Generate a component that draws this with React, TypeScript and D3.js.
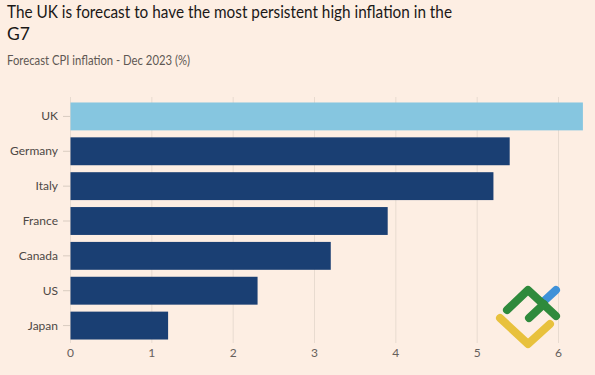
import React from "react";
import * as d3 from "d3";

const countries = ["UK", "Germany", "Italy", "France", "Canada", "US", "Japan"];
const values = [6.3, 5.4, 5.2, 3.9, 3.2, 2.3, 1.2];
const highlight = ["UK"];
const xTicks = [0, 1, 2, 3, 4, 5, 6];
const titleLines = ["The UK is forecast to have the most persistent high inflation in the", "G7"];
const subtitle = "Forecast CPI inflation - Dec 2023 (%)";

const W = 595;
const H = 375;
const FONT = "Lato, 'Open Sans', sans-serif";

export default function App() {
  const x = d3.scaleLinear().domain([0, 6]).range([70.5, 558.5]);
  const y = d3.scaleBand<string>().domain(countries).range([99, 343]).paddingInner(0.2).paddingOuter(0.1);

  return (
    <div style={{ position: "fixed", left: 0, top: 0, width: W, height: H }}>
      <svg width={W} height={H} style={{ display: "block" }}>
        <rect x={0} y={0} width={W} height={H} fill="#fdeee3" />
        {titleLines.map((t, i) => (
          <text
            key={i}
            x={7}
            y={18 + i * 22}
            fontFamily={FONT}
            fontSize={17.5}
            fill="#1a1817"
            textLength={i === 0 ? 445 : undefined}
            lengthAdjust="spacingAndGlyphs"
          >
            {t}
          </text>
        ))}
        <text x={7} y={65} fontFamily={FONT} fontSize={12.5} fill="#5f5853" textLength={183} lengthAdjust="spacingAndGlyphs">
          {subtitle}
        </text>
        {xTicks.map((t) => (
          <g key={t}>
            <line x1={x(t)} x2={x(t)} y1={97} y2={343} stroke="#e8dbd0" strokeWidth={1} />
            <text x={x(t)} y={357} textAnchor="middle" fontFamily={FONT} fontSize={12} fill="#66605c">
              {t}
            </text>
          </g>
        ))}
        {countries.map((c, i) => {
          const yy = y(c)!;
          const bw = y.bandwidth();
          return (
            <g key={c}>
              <line x1={63} x2={70} y1={yy + bw / 2} y2={yy + bw / 2} stroke="#d9ccc1" />
              <text x={58} y={yy + bw / 2 + 4} textAnchor="end" fontFamily={FONT} fontSize={12} fill="#4d4845">
                {c}
              </text>
              <rect
                x={x(0)}
                y={yy}
                width={x(values[i]) - x(0)}
                height={bw}
                fill={highlight.includes(c) ? "#86c6e0" : "#1a3f73"}
              />
            </g>
          );
        })}
        <g fill="none" strokeLinecap="round" strokeLinejoin="round" strokeWidth={8}>
          <polyline points="500,318 528,344 550,324" stroke="#e8c13d" />
          <line x1={543} y1={302} x2={556} y2={290} stroke="#3f91d8" />
          <polyline points="507,310 528,290 556,316" stroke="#2f8a3c" />
          <line x1={529} y1={318} x2={544} y2={304} stroke="#2f8a3c" />
        </g>
      </svg>
    </div>
  );
}
